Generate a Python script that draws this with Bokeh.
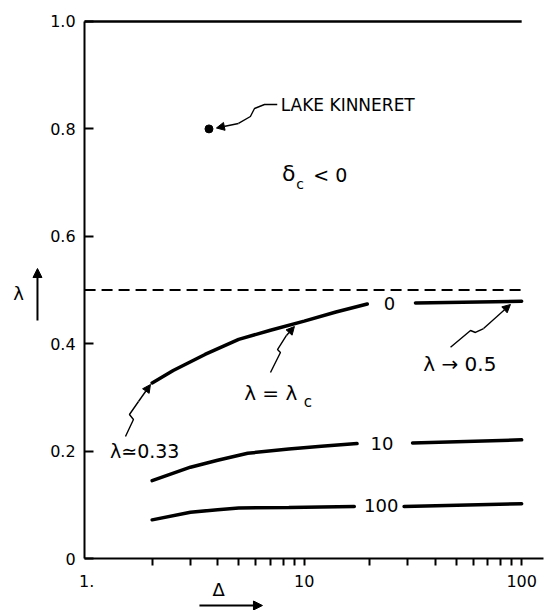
from bokeh.plotting import figure
from bokeh.models import (ColumnDataSource, FixedTicker, CustomJSTickFormatter,
                          Range1d, Arrow, NormalHead)
from bokeh.core.properties import value
from bokeh.embed import file_html
from bokeh.resources import INLINE

FONT = "DejaVu Sans"

# ---------------- data ----------------
# visible canvas range (frame covers whole canvas; axes are drawn at fixed locations)
X_VIEW = (0.4016, 128.7)
Y_VIEW = (-0.0968, 1.0391)
X_AXIS_START, X_AXIS_END = 0.978, 125.6
Y_AXIS_START, Y_AXIS_END = 0.0, 1.0

y_ticks = [0.0, 0.2, 0.4, 0.6, 0.8, 1.0]
x_major_ticks = [1, 10, 100]
x_minor_ticks = [2, 3, 4, 5, 6, 7, 8, 9, 10, 20, 30, 40, 50, 60, 70, 80, 90, 100]

# lambda = lambda_c  (label "0")
lamc_x = [2, 2.5, 3.5, 5, 7, 10, 14, 19.5]
lamc_y = [0.327, 0.350, 0.380, 0.408, 0.425, 0.442, 0.459, 0.474]
lam0_right_x = [32.5, 100]
lam0_right_y = [0.476, 0.479]

# curve "10"
c10_left_x = [2, 3, 4, 5.5, 8.5, 12, 17.5]
c10_left_y = [0.145, 0.170, 0.183, 0.196, 0.204, 0.209, 0.214]
c10_right_x = [31.5, 100]
c10_right_y = [0.215, 0.221]

# curve "100"
c100_left_x = [2, 3, 4, 5, 8.5, 12, 17]
c100_left_y = [0.072, 0.086, 0.091, 0.094, 0.095, 0.096, 0.097]
c100_right_x = [28.8, 100]
c100_right_y = [0.097, 0.102]

# asymptote lambda = 0.5 and top frame line
limit_x = [X_AXIS_START, 100]
limit_y = [0.5, 0.5]
top_x = [X_AXIS_START, 100]
top_y = [1.0, 1.0]

# Lake Kinneret point
kinneret_x = [3.65]
kinneret_y = [0.8]

# curve labels
curve_labels = ["0", "10", "100"]
curve_label_x = [24.7, 22.8, 22.6]
curve_label_y = [0.475, 0.2136, 0.0987]

# ---------------- figure ----------------
p = figure(width=545, height=610, x_axis_type="log",
           x_range=Range1d(*X_VIEW), y_range=Range1d(*Y_VIEW),
           output_backend="svg", toolbar_location=None,
           min_border=0, min_border_left=0, min_border_right=0,
           min_border_top=0, min_border_bottom=0)
p.grid.visible = False
p.outline_line_color = None
p.background_fill_color = "white"
p.border_fill_color = "white"

# axes
for ax in (p.xaxis, p.yaxis):
    ax.axis_line_width = 2
    ax.axis_line_color = "black"
    ax.major_label_text_font = FONT
    ax.major_label_text_font_size = "16px"
    ax.major_label_text_color = "black"

p.yaxis.fixed_location = X_AXIS_START
p.yaxis.bounds = (Y_AXIS_START, Y_AXIS_END)
p.yaxis.ticker = FixedTicker(ticks=y_ticks)
p.yaxis.formatter = CustomJSTickFormatter(code="return tick == 0 ? '0' : tick.toFixed(1);")
p.yaxis.major_tick_in = 9
p.yaxis.major_tick_out = 0
p.yaxis.major_tick_line_width = 2
p.yaxis.minor_tick_line_color = None
p.yaxis.major_label_standoff = 9

p.xaxis.fixed_location = Y_AXIS_START
p.xaxis.bounds = (X_AXIS_START, X_AXIS_END)
p.xaxis.ticker = FixedTicker(ticks=x_major_ticks, minor_ticks=x_minor_ticks)
p.xaxis.formatter = CustomJSTickFormatter(code="return tick < 1.5 ? '1.' : tick.toFixed(0);")
p.xaxis.major_tick_in = 0
p.xaxis.major_tick_out = 0
p.xaxis.minor_tick_in = 0
p.xaxis.minor_tick_out = 7
p.xaxis.minor_tick_line_width = 2
p.xaxis.minor_tick_line_color = "black"
p.xaxis.major_label_standoff = 9

# lines
p.line(top_x, top_y, line_width=2.5, color="black")
p.line(limit_x, limit_y, line_width=2, color="black", line_dash="11 6")

CW = 3.5
for xs, ys in [(lamc_x, lamc_y), (lam0_right_x, lam0_right_y),
               (c10_left_x, c10_left_y), (c10_right_x, c10_right_y),
               (c100_left_x, c100_left_y), (c100_right_x, c100_right_y)]:
    p.line(xs, ys, line_width=CW, color="black", line_cap="round")

p.scatter(kinneret_x, kinneret_y, size=8, color="black")

lab_src = ColumnDataSource(dict(x=curve_label_x, y=curve_label_y, t=curve_labels))
p.text(x="x", y="y", text="t", source=lab_src, text_font=value(FONT),
       text_font_size="18px", text_align="center", text_baseline="middle",
       text_color="black")

def txt(x, y, s, size="17px", align="left"):
    p.text(x=[x], y=[y], text=[s], text_font=value(FONT), text_font_size=size,
           text_align=align, text_baseline="middle", text_color="black")

# annotation texts
txt(7.8, 0.845, "LAKE KINNERET", size="17px")
txt(7.9, 0.717, "δ", size="22px")
txt(9.2, 0.697, "c", size="14px")
txt(11.0, 0.715, "< 0", size="19px")
txt(9.3, 0.309, "λ = λ", size="20px", align="right")
txt(9.96, 0.291, "c", size="15px")
txt(1.28, 0.201, "λ≃0.33", size="19px")
txt(35.3, 0.363, "λ → 0.5", size="20px")

# axis titles
txt(0.486, 0.4935, "λ", size="18px", align="center")
txt(4.04, -0.058, "Δ", size="18px", align="center")

# squiggle arrows: polyline + arrow head
def squiggle(xs, ys, xe, ye):
    p.line(xs, ys, line_width=1.4, color="black")
    p.add_layout(Arrow(end=NormalHead(size=8, fill_color="black", line_color="black"),
                       x_start=xs[-1], y_start=ys[-1], x_end=xe, y_end=ye,
                       line_width=1.4, line_color="black"))

squiggle([1.508, 1.641, 1.573, 1.731], [0.2272, 0.2588, 0.2682, 0.2924], 1.965, 0.324)
squiggle([7.00, 7.78, 7.54, 8.29], [0.3464, 0.3836, 0.3892, 0.4153], 9.02, 0.432)
squiggle([47.1, 58.2, 61.3, 66.8], [0.3935, 0.4246, 0.4209, 0.4283], 88.8, 0.473)
squiggle([7.52, 6.57, 5.91, 5.66, 4.99], [0.8454, 0.8454, 0.838, 0.8231, 0.8101], 3.95, 0.8017)

# axis-title arrows
p.add_layout(Arrow(end=NormalHead(size=9, fill_color="black", line_color="black"),
                   x_start=0.594, y_start=0.443, x_end=0.594, y_end=0.540,
                   line_width=2, line_color="black"))
p.add_layout(Arrow(end=NormalHead(size=9, fill_color="black", line_color="black"),
                   x_start=3.30, y_start=-0.0875, x_end=6.43, y_end=-0.0875,
                   line_width=2, line_color="black"))

open("out.html", "w").write(file_html(p, INLINE))
